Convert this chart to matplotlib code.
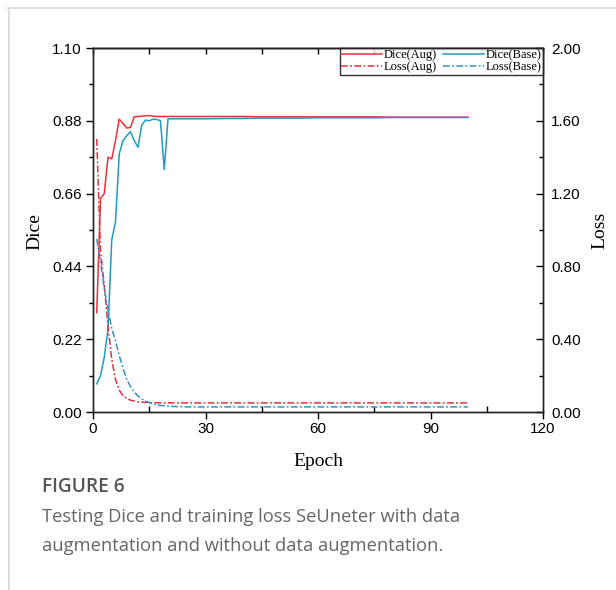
import matplotlib
matplotlib.use("Agg")
import matplotlib.pyplot as plt
from matplotlib.lines import Line2D
from matplotlib.ticker import MultipleLocator

# ---- data ----
epochs = list(range(1, 26)) + [30, 35, 40, 45, 50, 55, 60, 65, 70, 75, 80, 85, 90, 95, 100]

dice_aug = [0.30, 0.645, 0.66, 0.77, 0.765, 0.82, 0.885, 0.872, 0.858, 0.86,
            0.892, 0.893, 0.894, 0.895, 0.896, 0.894, 0.893, 0.893, 0.893, 0.893,
            0.893, 0.893, 0.893, 0.893, 0.893,
            0.893, 0.893, 0.893, 0.892, 0.892, 0.892, 0.892, 0.892, 0.892, 0.892,
            0.891, 0.891, 0.891, 0.891, 0.891]

dice_base = [0.085, 0.11, 0.165, 0.25, 0.52, 0.575, 0.78, 0.82, 0.835, 0.847,
             0.82, 0.80, 0.867, 0.882, 0.88, 0.885, 0.884, 0.88, 0.733, 0.886,
             0.886, 0.886, 0.886, 0.886, 0.886,
             0.886, 0.887, 0.887, 0.888, 0.888, 0.888, 0.889, 0.889, 0.889, 0.889,
             0.890, 0.890, 0.890, 0.890, 0.890]

loss_aug = [1.50, 0.88, 0.70, 0.47, 0.29, 0.18, 0.12, 0.09, 0.075, 0.065,
            0.06, 0.056, 0.054, 0.053, 0.052, 0.051, 0.051, 0.05, 0.05, 0.05,
            0.05, 0.05, 0.05, 0.05, 0.05,
            0.05, 0.05, 0.05, 0.05, 0.05, 0.05, 0.05, 0.05, 0.05, 0.05,
            0.05, 0.05, 0.05, 0.05, 0.05]

loss_base = [0.95, 0.82, 0.68, 0.56, 0.46, 0.39, 0.31, 0.24, 0.18, 0.14,
             0.11, 0.088, 0.072, 0.06, 0.052, 0.045, 0.04, 0.036, 0.034, 0.032,
             0.031, 0.030, 0.029, 0.029, 0.028,
             0.028, 0.028, 0.028, 0.028, 0.028, 0.028, 0.028, 0.028, 0.028, 0.028,
             0.028, 0.028, 0.028, 0.028, 0.028]

dice_ticks = [0.00, 0.22, 0.44, 0.66, 0.88, 1.10]
loss_ticks = [0.00, 0.40, 0.80, 1.20, 1.60, 2.00]
epoch_ticks = [0, 30, 60, 90, 120]

RED = '#e8303a'
TEAL = '#1e9cc0'
RED_D = '#e2303c'
BLUE_D = '#3a8fc2'

W, H = 616, 590
fig = plt.figure(figsize=(W / 100, H / 100), dpi=100)
ax = fig.add_axes([93 / W, 1 - 412 / H, 450 / W, 364 / H])
ax2 = ax.twinx()

dd = (4.5, 1.5, 1.2, 1.5)
l1, = ax.plot(epochs, dice_aug, color=RED, lw=1.1, label='Dice(Aug)')
l2, = ax.plot(epochs, dice_base, color=TEAL, lw=1.1, label='Dice(Base)')
l3, = ax2.plot(epochs, loss_aug, color=RED_D, lw=1.1, dashes=dd, label='Loss(Aug)')
l4, = ax2.plot(epochs, loss_base, color=BLUE_D, lw=1.1, dashes=dd, label='Loss(Base)')

ax.set_xlim(0, 120)
ax.set_ylim(0, 1.10)
ax2.set_ylim(0, 2.00)

tickfont = dict(family='Liberation Sans', size=11)
ax.set_xticks(epoch_ticks)
ax.set_xticklabels([str(t) for t in epoch_ticks], **tickfont)
ax.xaxis.set_minor_locator(MultipleLocator(15))
ax.set_yticks(dice_ticks)
ax.set_yticklabels([f'{t:.2f}' for t in dice_ticks], **tickfont)
ax.yaxis.set_minor_locator(MultipleLocator(0.11))
ax2.set_yticks(loss_ticks)
ax2.set_yticklabels([f'{t:.2f}' for t in loss_ticks], **tickfont)
ax2.yaxis.set_minor_locator(MultipleLocator(0.20))

ax.tick_params(axis='y', which='major', direction='out', length=5, width=1, pad=3)
ax.tick_params(axis='y', which='minor', direction='out', length=3, width=1)
ax.tick_params(axis='x', which='major', direction='out', length=5, width=1, pad=2)
ax.tick_params(axis='x', which='minor', direction='in', length=4, width=1)
ax2.tick_params(axis='y', which='major', direction='in', length=5, width=1, pad=6)
ax2.tick_params(axis='y', which='minor', direction='in', length=3, width=1)

sec = ax.secondary_xaxis('top')
sec.set_xticks([0, 15, 30, 45, 60, 75, 90, 105, 120])
sec.tick_params(direction='in', length=4, width=1, labeltop=False)
for sp in sec.spines.values():
    sp.set_linewidth(1.0)

for a in (ax, ax2):
    for sp in a.spines.values():
        sp.set_linewidth(1.0)
        sp.set_color('#222222')

labfont = dict(family='Liberation Serif', size=14)
fig.text(35 / W, 1 - 232 / H, 'Dice', rotation=90, ha='center', va='center', **labfont)
fig.text(600 / W, 1 - 230 / H, 'Loss', rotation=90, ha='center', va='center', **labfont)
fig.text(318 / W, 1 - 461 / H, 'Epoch', ha='center', va='center', **labfont)

leg = ax.legend(handles=[l1, l3, l2, l4], loc='upper right', ncol=2,
                prop=dict(family='Liberation Serif', size=9),
                frameon=True, fancybox=False, edgecolor='black',
                borderaxespad=0, borderpad=0.1, handlelength=3.3,
                handletextpad=0.15, columnspacing=0.45, labelspacing=0.0)
leg.get_frame().set_linewidth(1.0)
leg.set_zorder(10)

# border lines of the figure panel
fig.add_artist(Line2D([8 / W, 1], [1 - 8 / H, 1 - 8 / H], color='#dcdcdc', lw=1.5))
fig.add_artist(Line2D([9 / W, 9 / W], [0, 1 - 8 / H], color='#dcdcdc', lw=1.5))

fig.text(42 / W, 1 - 487 / H, 'FIGURE 6', ha='left', va='center',
         family='Open Sans', weight='semibold', size=13.8, color='#555555')
fig.text(42 / W, 1 - 517 / H, 'Testing Dice and training loss SeUneter with data',
         ha='left', va='center', family='Open Sans', size=13.2, color='#666666')
fig.text(42 / W, 1 - 546 / H, 'augmentation and without data augmentation.',
         ha='left', va='center', family='Open Sans', size=13.2, color='#666666')

fig.savefig('out.png', dpi=100)
